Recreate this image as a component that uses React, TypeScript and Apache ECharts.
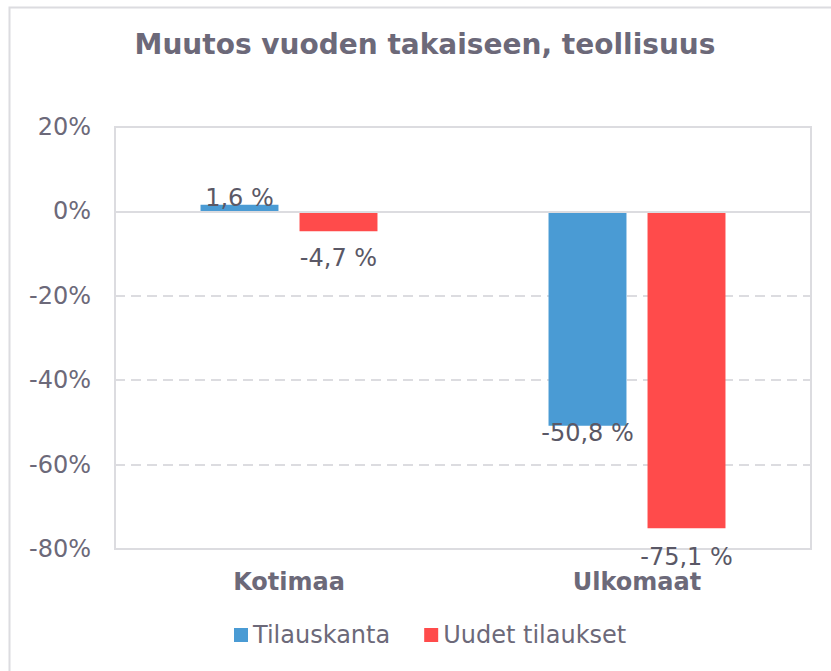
import React, { useEffect, useRef } from "react";
import * as echarts from "echarts";

const categories = ["Kotimaa", "Ulkomaat"];
const seriesNames = ["Tilauskanta", "Uudet tilaukset"];
const tilauskanta = [1.6, -50.8];
const uudetTilaukset = [-4.7, -75.1];
const yTicks = { min: -80, max: 20, interval: 20 };
const labelDistances = [[-5, -5], [15, 17]];

const FONT = "'DejaVu Sans', Verdana, sans-serif";
const TEXT = "#6c6979";
const LABEL = "#5a5866";
const GRID = "#dcdce0";

function fmt(v: number) {
  return v.toFixed(1).replace(".", ",") + " %";
}

function toData(values: number[], sIdx: number) {
  return values.map((v, i) => ({
    value: v,
    label: {
      position: v >= 0 ? "top" : "bottom",
      distance: labelDistances[sIdx][i],
    },
  }));
}

export default function App() {
  const ref = useRef<HTMLDivElement>(null);
  useEffect(() => {
    if (!ref.current) return;
    const chart = echarts.init(ref.current, undefined, { renderer: "svg" });
    const labelCommon = {
      show: true,
      formatter: (p: any) => fmt(p.value),
      color: LABEL,
      fontSize: 24,
      fontFamily: FONT,
    };
    chart.setOption({
      animation: false,
      backgroundColor: "#ffffff",
      graphic: [
        {
          type: "rect",
          left: 7,
          top: 5,
          shape: { width: 900, height: 900 },
          style: { fill: "none", stroke: GRID, lineWidth: 2 },
          silent: true,
        },
        {
          type: "text",
          x: 425,
          y: 44,
          silent: true,
          style: {
            text: "Muutos vuoden takaiseen, teollisuus",
            align: "center",
            verticalAlign: "middle",
            fontFamily: FONT,
            fontWeight: "bold",
            fontSize: 28,
            fill: TEXT,
          },
        },
      ],
      legend: {
        left: 234,
        top: 623,
        padding: 0,
        itemWidth: 14,
        itemHeight: 14,
        itemGap: 34,
        icon: "rect",
        textStyle: { fontFamily: FONT, fontSize: 24, color: TEXT },
        data: seriesNames,
      },
      grid: {
        left: 115,
        right: 20,
        top: 127,
        bottom: 122,
        show: true,
        borderColor: GRID,
        borderWidth: 2,
        containLabel: false,
      },
      xAxis: {
        type: "category",
        data: categories,
        position: "bottom",
        axisLine: { show: false },
        axisTick: { show: false },
        splitLine: { show: false },
        axisLabel: {
          margin: 21,
          fontFamily: FONT,
          fontWeight: "bold",
          fontSize: 24,
          color: TEXT,
        },
      },
      yAxis: {
        type: "value",
        min: yTicks.min,
        max: yTicks.max,
        interval: yTicks.interval,
        axisLine: { show: false },
        axisTick: { show: false },
        axisLabel: {
          formatter: (v: number) => `${v}%`,
          margin: 24,
          fontFamily: FONT,
          fontSize: 24,
          color: TEXT,
        },
        splitLine: {
          show: true,
          lineStyle: { color: GRID, width: 2, type: [10, 6] },
        },
      },
      series: [
        {
          name: seriesNames[0],
          type: "bar",
          data: toData(tilauskanta, 0),
          itemStyle: { color: "#4a9bd4" },
          barWidth: "22.4%",
          barGap: "27%",
          label: labelCommon,
          markLine: {
            silent: true,
            symbol: "none",
            label: { show: false },
            lineStyle: { color: GRID, width: 2, type: "solid" },
            data: [{ yAxis: 0 }],
          },
        },
        {
          name: seriesNames[1],
          type: "bar",
          data: toData(uudetTilaukset, 1),
          itemStyle: { color: "#ff4b4b" },
          barWidth: "22.4%",
          barGap: "27%",
          label: labelCommon,
        },
      ],
    });
    return () => chart.dispose();
  }, []);
  return (
    <div
      ref={ref}
      style={{ position: "fixed", left: 0, top: 0, width: 831, height: 671 }}
    />
  );
}
